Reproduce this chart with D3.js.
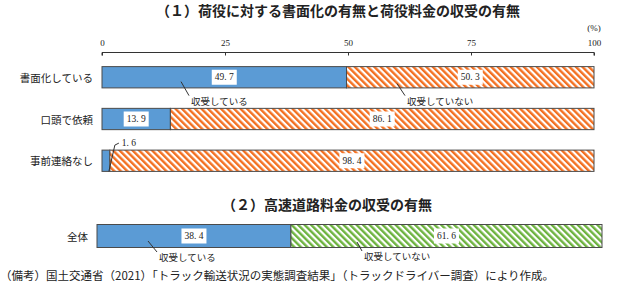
<!DOCTYPE html>
<html>
<head>
<meta charset="utf-8">
<script src="https://cdn.jsdelivr.net/npm/d3@7"></script>
<style>
  body { margin: 0; background: #fff; }
  svg text { font-family: "Liberation Serif", "Noto Sans CJK JP", serif; fill: #222; }
  .jp { font-family: "Noto Sans CJK JP", sans-serif; }
</style>
</head>
<body>
<div id="grafik"></div>
<script>
// podaci
const kategorije1 = ["書面化している", "口頭で依頼", "事前連絡なし"];
const prima1 = [49.7, 13.9, 1.6];
const neprima1 = [50.3, 86.1, 98.4];
const kategorije2 = ["全体"];
const prima2 = [38.4];
const neprima2 = [61.6];
const tickovi = [0, 25, 50, 75, 100];

const naslov1 = "（１）荷役に対する書面化の有無と荷役料金の収受の有無";
const naslov2 = "（２）高速道路料金の収受の有無";
const izvor = "（備考）国土交通省（2021）「トラック輸送状況の実態調査結果」（トラックドライバー調査）により作成。";

const sirina = 624, visina = 286;
const plava = "#5B9BD5", narancasta = "#F37021", zelena = "#6DB33F", rub = "#4a4a4a";

const okvir = d3.select("#grafik").append("svg")
  .attr("width", sirina).attr("height", visina);

// uzorci s prugama
const defs = okvir.append("defs");
[["prugeNar", narancasta], ["prugeZel", zelena]].forEach(([id, boja]) => {
  const p = defs.append("pattern")
    .attr("id", id)
    .attr("patternUnits", "userSpaceOnUse")
    .attr("width", 4.6).attr("height", 4.6)
    .attr("patternTransform", "rotate(-45)");
  p.append("rect").attr("width", 4.6).attr("height", 4.6).attr("fill", "#fff");
  p.append("rect").attr("width", 2.4).attr("height", 4.6).attr("fill", boja);
});

// naslovi
okvir.append("text").attr("class", "jp")
  .attr("x", 338).attr("y", 10)
  .attr("text-anchor", "middle").attr("dominant-baseline", "central")
  .style("font-size", "14px").style("font-weight", "bold")
  .text(naslov1);

okvir.append("text").attr("class", "jp")
  .attr("x", 327).attr("y", 204)
  .attr("text-anchor", "middle").attr("dominant-baseline", "central")
  .style("font-size", "14px").style("font-weight", "bold")
  .text(naslov2);

// prvi graf
const x1 = d3.scaleLinear().domain([0, 100]).range([102, 594]);
const y1 = d3.scaleBand().domain(kategorije1).range([52, 186]).paddingInner(0.49).paddingOuter(0.35);

const os = okvir.append("g")
  .attr("transform", "translate(0,52.5)")
  .call(d3.axisTop(x1).tickValues(tickovi).tickSize(-3).tickPadding(7));
os.select(".domain").attr("stroke", "#333").attr("d", "M102,3V0H594V3");
os.selectAll(".tick line").attr("stroke", "#333");
os.selectAll(".tick text")
  .style("font-family", "Liberation Serif").style("font-size", "9px").attr("fill", "#222");

okvir.append("text")
  .attr("x", 594).attr("y", 31)
  .attr("text-anchor", "middle")
  .style("font-size", "9px")
  .text("(%)");

function crtajRedove(kategorije, prima, neprima, x, y, uzorak) {
  const g = okvir.append("g");
  kategorije.forEach((k, i) => {
    const y0 = y(k), h = y.bandwidth();
    const granica = x(prima[i]);
    g.append("rect")
      .attr("x", x(0)).attr("y", y0)
      .attr("width", granica - x(0)).attr("height", h)
      .attr("fill", plava).attr("stroke", rub).attr("stroke-width", 1);
    g.append("rect")
      .attr("x", granica).attr("y", y0)
      .attr("width", x(prima[i] + neprima[i]) - granica).attr("height", h)
      .attr("fill", `url(#${uzorak})`).attr("stroke", rub).attr("stroke-width", 1);

    g.append("text").attr("class", "jp")
      .attr("x", x(0) - 9).attr("y", y0 + h / 2)
      .attr("text-anchor", "end").attr("dominant-baseline", "central")
      .style("font-size", "10.5px")
      .text(k);

    // oznake vrijednosti
    const oznake = [
      { v: prima[i], c: (x(0) + granica) / 2 },
      { v: neprima[i], c: (granica + x(prima[i] + neprima[i])) / 2 }
    ];
    oznake.forEach(o => {
      if (o.v < 5) return;
      g.append("rect")
        .attr("x", o.c - 12.5).attr("y", y0 + h / 2 - 7.5)
        .attr("width", 25).attr("height", 15)
        .attr("fill", "#fff");
      g.append("text")
        .attr("x", o.c).attr("y", y0 + h / 2)
        .attr("text-anchor", "middle").attr("dominant-baseline", "central")
        .style("font-size", "9.5px")
        .text(d3.format(".1f")(o.v).replace(".", ". "));
    });
  });
  return g;
}

crtajRedove(kategorije1, prima1, neprima1, x1, y1, "prugeNar");

// oznaka za malu vrijednost
const r3 = y1(kategorije1[2]);
okvir.append("path")
  .attr("d", `M${x1(prima1[2]) - 1},${r3 + y1.bandwidth()} L${x1(prima1[2]) + 5},${r3 - 5} L${x1(prima1[2]) + 9},${r3 - 7}`)
  .attr("fill", "none").attr("stroke", "#333");
okvir.append("text")
  .attr("x", x1(prima1[2]) + 12).attr("y", r3 - 7)
  .attr("dominant-baseline", "central")
  .style("font-size", "9.5px")
  .text(d3.format(".1f")(prima1[2]).replace(".", ". "));

// pozivne oznake
function poziv(xa, ya, xb, yb, tekst) {
  okvir.append("line")
    .attr("x1", xa).attr("y1", ya).attr("x2", xb).attr("y2", yb)
    .attr("stroke", "#333");
  okvir.append("text").attr("class", "jp")
    .attr("x", xb + 2).attr("y", yb + 5)
    .attr("dominant-baseline", "central")
    .style("font-size", "9.5px")
    .text(tekst);
}
const r1 = y1(kategorije1[0]);
poziv(181, r1 + 15, 189, r1 + 29, "収受している");
poziv(397, r1 + 17, 405, r1 + 29, "収受していない");

// drugi graf
const x2 = d3.scaleLinear().domain([0, 100]).range([97, 602]);
const y2 = d3.scaleBand().domain(kategorije2).range([224.5, 247.5]);
crtajRedove(kategorije2, prima2, neprima2, x2, y2, "prugeZel");
poziv(148, 241, 157, 252, "収受している");
poziv(357, 242, 362, 251, "収受していない");

// izvor
okvir.append("text").attr("class", "jp")
  .attr("x", 0).attr("y", 275)
  .attr("dominant-baseline", "central")
  .style("font-size", "11.5px")
  .text(izvor);
</script>
</body>
</html>
